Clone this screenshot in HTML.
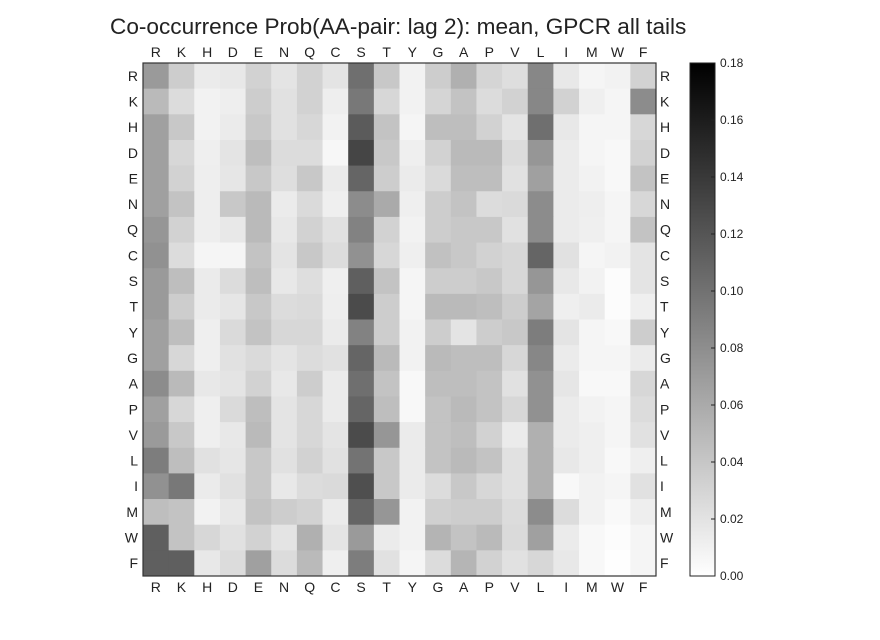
<!DOCTYPE html>
<html><head><meta charset="utf-8"><style>
html,body{margin:0;padding:0;background:#fff;}
svg{display:block;font-family:"Liberation Sans","DejaVu Sans",sans-serif;}
</style></head><body>
<svg id="c" width="880" height="640">
<text x="110" y="34" font-size="22.6" fill="#222">Co-occurrence Prob(AA-pair: lag 2): mean, GPCR all tails</text>
<g id="cells"></g>
<g id="labels"></g>
<defs><linearGradient id="cg" x1="0" y1="1" x2="0" y2="0"><stop offset="0" stop-color="#fff"/><stop offset="1" stop-color="#000"/></linearGradient></defs>
<rect x="690" y="63" width="25" height="513" fill="url(#cg)" stroke="#222" stroke-width="1"/>
<g id="cbticks"></g>
<rect x="143" y="63" width="513" height="513" fill="none" stroke="#333" stroke-width="1.2"/>
</svg>
<script>
const aminoAcids = ["R","K","H","D","E","N","Q","C","S","T","Y","G","A","P","V","L","I","M","W","F"];
const cbTicks = [0,0.02,0.04,0.06,0.08,0.10,0.12,0.14,0.16,0.18];
const vmax = 0.18;
const matrix = [
[.071,.035,.014,.016,.032,.019,.032,.019,.102,.039,.009,.035,.056,.030,.023,.085,.016,.007,.009,.032],
[.049,.025,.009,.012,.035,.021,.032,.012,.095,.028,.009,.030,.042,.025,.032,.085,.032,.011,.007,.081],
[.067,.039,.009,.014,.039,.021,.028,.009,.116,.042,.007,.046,.046,.032,.019,.102,.016,.007,.007,.028],
[.067,.028,.011,.019,.046,.025,.025,.006,.131,.039,.011,.032,.049,.049,.025,.074,.014,.007,.005,.032],
[.067,.032,.012,.018,.039,.023,.039,.014,.109,.035,.014,.026,.046,.046,.021,.067,.014,.009,.005,.042],
[.067,.042,.012,.039,.049,.014,.026,.011,.081,.060,.011,.035,.042,.025,.026,.081,.014,.012,.007,.028],
[.074,.032,.012,.016,.049,.016,.032,.021,.088,.032,.009,.035,.039,.039,.021,.081,.014,.011,.007,.042],
[.078,.025,.007,.007,.042,.019,.039,.025,.078,.028,.011,.044,.039,.032,.028,.109,.021,.007,.009,.019],
[.071,.046,.014,.025,.046,.016,.023,.011,.113,.042,.007,.035,.035,.039,.028,.074,.016,.009,.002,.019],
[.071,.035,.014,.018,.039,.025,.026,.012,.127,.035,.007,.049,.049,.046,.035,.064,.011,.014,.002,.011],
[.067,.046,.011,.026,.042,.028,.028,.014,.088,.035,.009,.035,.019,.035,.039,.092,.019,.007,.005,.035],
[.067,.028,.011,.021,.026,.019,.025,.021,.109,.049,.009,.049,.046,.046,.028,.085,.014,.007,.007,.014],
[.081,.049,.016,.019,.032,.016,.035,.014,.102,.042,.005,.046,.046,.042,.021,.078,.018,.005,.005,.028],
[.067,.028,.011,.026,.046,.019,.028,.014,.109,.046,.005,.042,.049,.042,.028,.078,.014,.009,.007,.025],
[.071,.039,.011,.016,.049,.019,.028,.019,.127,.074,.014,.042,.046,.032,.014,.056,.014,.011,.007,.021],
[.092,.046,.021,.018,.039,.021,.032,.021,.099,.039,.014,.042,.049,.042,.021,.056,.016,.011,.005,.011],
[.078,.095,.014,.021,.039,.016,.025,.026,.124,.039,.014,.025,.039,.028,.021,.056,.005,.009,.007,.021],
[.046,.042,.009,.016,.042,.035,.032,.014,.109,.074,.009,.033,.035,.035,.025,.081,.025,.009,.004,.012],
[.113,.042,.028,.021,.032,.019,.056,.019,.071,.014,.009,.053,.042,.049,.026,.067,.014,.005,.002,.007],
[.113,.113,.016,.025,.067,.025,.049,.011,.092,.021,.007,.025,.052,.032,.021,.028,.016,.005,.001,.007]
];
const NS="http://www.w3.org/2000/svg";
const X0=143,Y0=63,W=513;
const n=aminoAcids.length, cw=W/n;
const xPos=i=>X0+i*cw, yPos=j=>Y0+j*cw;
const color=v=>{const g=Math.round(255*(1-Math.max(0,Math.min(1,v/vmax))));return `rgb(${g},${g},${g})`;};
const cells=document.getElementById('cells');
matrix.forEach((row,j)=>row.forEach((v,i)=>{
  const r=document.createElementNS(NS,'rect');
  r.setAttribute('x',xPos(i));r.setAttribute('y',yPos(j));
  r.setAttribute('width',cw+0.5);r.setAttribute('height',cw+0.5);
  r.setAttribute('fill',color(v));
  
  
  cells.appendChild(r);
}));
const lab=document.getElementById('labels');
function txt(x,y,s,anchor,name){
  const t=document.createElementNS(NS,'text');
  t.setAttribute('x',x);t.setAttribute('y',y);t.setAttribute('font-size','14');
  t.setAttribute('fill','#222');t.setAttribute('text-anchor',anchor);
  t.textContent=s;
  
  
  lab.appendChild(t);
}
aminoAcids.forEach((a,i)=>{
  const c=xPos(i)+cw/2, m=yPos(i)+cw/2+5;
  txt(c,57,a,'middle','top-label-'+a);
  txt(c,592,a,'middle','bottom-label-'+a);
  txt(138,m,a,'end','left-label-'+a);
  txt(660,m,a,'start','right-label-'+a);
});
const cb=document.getElementById('cbticks');
cbTicks.forEach(t=>{
  const y=576-t/vmax*513;
  const l=document.createElementNS(NS,'line');
  l.setAttribute('x1',715);l.setAttribute('x2',711);l.setAttribute('y1',y);l.setAttribute('y2',y);
  l.setAttribute('stroke','#222');
  
  
  cb.appendChild(l);
  const tx=document.createElementNS(NS,'text');
  tx.setAttribute('x',720);tx.setAttribute('y',y+4);tx.setAttribute('font-size','12');tx.setAttribute('fill','#222');
  tx.textContent=t.toFixed(2);
  
  
  cb.appendChild(tx);
});
</script>
</body></html>
